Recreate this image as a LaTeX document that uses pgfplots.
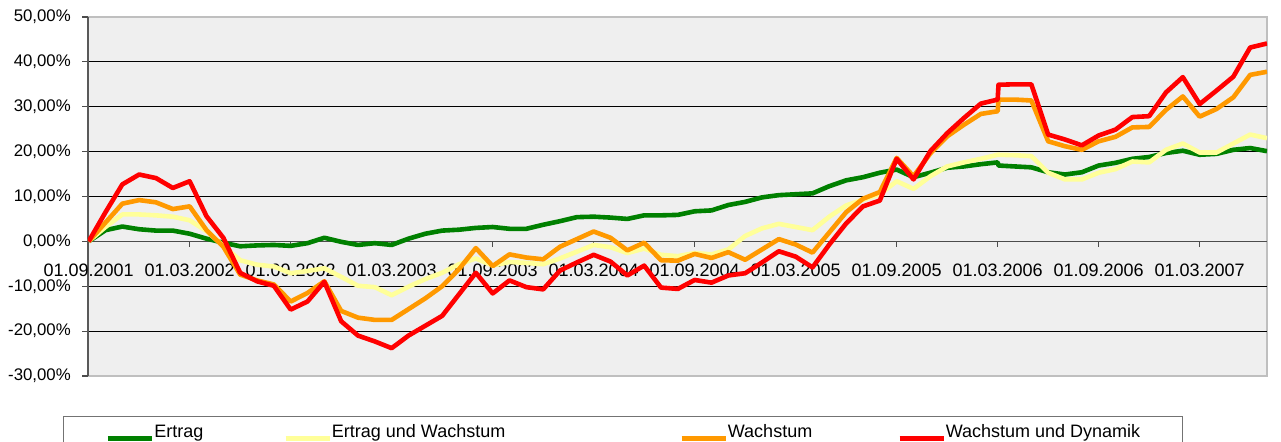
\documentclass[border=0pt]{standalone}
\usepackage{fontspec}
\setmainfont{Liberation Sans}
\usepackage{pgfplots}
\pgfplotsset{compat=1.18}
\definecolor{cgreen}{RGB}{0,128,0}
\definecolor{cyellow}{RGB}{255,255,153}
\definecolor{corange}{RGB}{255,153,0}
\definecolor{cred}{RGB}{255,0,0}
\definecolor{plotbg}{RGB}{239,239,239}
\begin{document}
\begin{tikzpicture}
\begin{axis}[
  scale only axis, width=589.5pt, height=179.5pt,
  xmin=0.96, xmax=71, ymin=-30, ymax=50,
  axis background/.style={fill=plotbg, draw=gray!50, line width=1pt},
  axis x line*=middle, axis y line*=left,
  x axis line style={black!70, line width=0.8pt},
  y axis line style={black!65, line width=1pt},
  tick align=outside, major tick length=2.8pt,
  tick style={black!70, line width=0.6pt},
  xtick={1,7,...,67},
  xticklabels={01.09.2001,01.03.2002,01.09.2002,01.03.2003,01.09.2003,01.03.2004,01.09.2004,01.03.2005,01.09.2005,01.03.2006,01.09.2006,01.03.2007},
  xticklabel style={font=\fontsize{9}{10.8}\selectfont, yshift=-5pt},
  ytick={-20,-10,...,40},
  yticklabels={{-20,00\%},{-10,00\%},{0,00\%},{10,00\%},{20,00\%},{30,00\%},{40,00\%}},
  extra y ticks={-30,50},
  extra y tick labels={{-30,00\%},{50,00\%}},
  extra y tick style={grid=none},
  yticklabel style={font=\fontsize{8.4}{10}\selectfont, xshift=-2.3pt},
  ymajorgrids, major grid style={black, line width=0.5pt},
  legend columns=4,
  legend cell align=left,
  legend style={at={(rel axis cs:0,0)}, anchor=north west, xshift=-12.5pt, yshift=-20pt,
    draw=black!55, line width=0.7pt, fill=white, inner xsep=21pt, inner ysep=4pt,
    font=\fontsize{9}{10.8}\selectfont, nodes={inner sep=0pt},
    /tikz/every odd column/.append style={column sep=0pt},
    /tikz/every even column/.append style={column sep=0pt}},
  legend image code/.code={\path[draw=none,fill=none] (0pt,-4pt) rectangle (22pt,4pt); \draw[#1] (0pt,-2.8pt) -- (22pt,-2.8pt);},
  every axis plot/.append style={line width=2.3pt, line join=round, mark=none, x filter/.expression={x+1}},
]
\coordinate (bl) at (rel axis cs:0,0);
\coordinate (tr) at (rel axis cs:1,1);
\addplot[cgreen] coordinates {(0,0)(1,2.5)(2,3.3)(3,2.7)(4,2.4)(5,2.4)(6,1.7)(7,0.6)(8,-0.3)(9,-1.1)(10,-0.9)(11,-0.8)(12,-1.0)(13,-0.4)(14,0.8)(15,-0.1)(16,-0.8)(17,-0.4)(18,-0.8)(19,0.6)(20,1.7)(21,2.4)(22,2.6)(23,3.0)(24,3.2)(25,2.8)(26,2.8)(27,3.7)(28,4.5)(29,5.4)(30,5.5)(31,5.3)(32,5.0)(33,5.8)(34,5.8)(35,5.9)(36,6.7)(37,6.9)(38,8.1)(39,8.8)(40,9.8)(41,10.3)(42,10.5)(43,10.7)(44,12.3)(45,13.6)(46,14.3)(47,15.3)(48,16.0)(49,14.3)(50,15.3)(51,16.4)(52,16.7)(53,17.2)(54,17.6)(54.05,16.9)(55,16.7)(56,16.5)(57,15.4)(58,14.9)(59,15.4)(60,16.9)(61,17.5)(62,18.4)(63,18.8)(64,19.7)(65,20.2)(66,19.3)(67,19.5)(68,20.4)(69,20.8)(70,20.1)};
\addlegendentry{Ertrag\hspace*{40pt}}
\addplot[cyellow] coordinates {(0,0)(1,3.2)(2,6.0)(3,6.0)(4,5.8)(5,5.5)(6,4.7)(7,2.3)(8,-1.0)(9,-4.2)(10,-5.2)(11,-5.6)(12,-7.1)(13,-6.6)(14,-6.0)(15,-7.9)(16,-9.9)(17,-10.2)(18,-12.0)(19,-10.1)(20,-8.4)(21,-7.0)(22,-5.1)(23,-3.8)(24,-5.4)(25,-4.6)(26,-4.8)(27,-5.1)(28,-3.8)(29,-2.3)(30,-0.8)(31,-1.3)(32,-2.6)(33,-1.6)(34,-3.0)(35,-3.3)(36,-2.6)(37,-2.9)(38,-1.8)(39,1.2)(40,2.9)(41,3.9)(42,3.2)(43,2.5)(44,5.5)(45,8.0)(46,9.3)(47,10.5)(48,13.4)(49,11.7)(50,14.5)(51,16.7)(52,17.6)(53,18.4)(54,19.3)(54.05,19.3)(55,19.2)(56,19.0)(57,15.3)(58,13.8)(59,13.8)(60,15.3)(61,16.1)(62,17.8)(63,17.6)(64,20.4)(65,21.8)(66,19.8)(67,19.8)(68,21.8)(69,23.8)(70,23.0)};
\addlegendentry{Ertrag und Wachstum\hspace*{87pt}}
\addplot[corange] coordinates {(0,0)(1,4.2)(2,8.4)(3,9.2)(4,8.7)(5,7.2)(6,7.8)(7,2.5)(8,-1.2)(9,-7.4)(10,-8.7)(11,-9.6)(12,-13.4)(13,-11.5)(14,-8.9)(15,-15.5)(16,-17.0)(17,-17.5)(18,-17.5)(19,-15.1)(20,-12.7)(21,-10.0)(22,-6.2)(23,-1.5)(24,-5.5)(25,-2.9)(26,-3.6)(27,-4.0)(28,-1.2)(29,0.5)(30,2.2)(31,0.8)(32,-2.0)(33,-0.3)(34,-4.2)(35,-4.3)(36,-2.8)(37,-3.7)(38,-2.4)(39,-4.1)(40,-1.8)(41,0.5)(42,-0.7)(43,-2.5)(44,2.0)(45,6.5)(46,9.5)(47,11.0)(48,18.6)(49,14.5)(50,19.6)(51,23.4)(52,26.0)(53,28.4)(54,29.0)(54.05,31.6)(55,31.6)(56,31.4)(57,22.3)(58,21.2)(59,20.4)(60,22.3)(61,23.3)(62,25.4)(63,25.5)(64,29.3)(65,32.3)(66,27.8)(67,29.5)(68,32.1)(69,37.1)(70,37.8)};
\addlegendentry{Wachstum\hspace*{42.5pt}}
\addplot[cred] coordinates {(0,0)(1,6.5)(2,12.7)(3,14.9)(4,14.1)(5,11.9)(6,13.4)(7,5.6)(8,0.8)(9,-7.0)(10,-8.9)(11,-9.9)(12,-15.2)(13,-13.4)(14,-9.0)(15,-17.8)(16,-21.0)(17,-22.3)(18,-23.8)(19,-21.0)(20,-18.8)(21,-16.6)(22,-11.8)(23,-7.0)(24,-11.6)(25,-8.7)(26,-10.2)(27,-10.7)(28,-6.5)(29,-4.7)(30,-3.0)(31,-4.5)(32,-7.6)(33,-5.4)(34,-10.3)(35,-10.6)(36,-8.6)(37,-9.2)(38,-7.6)(39,-7.1)(40,-4.7)(41,-2.2)(42,-3.4)(43,-5.8)(44,-0.7)(45,4.0)(46,7.8)(47,9.1)(48,18.4)(49,13.8)(50,20.1)(51,24.1)(52,27.5)(53,30.7)(54,31.6)(54.05,34.9)(55,35.0)(56,35.0)(57,23.8)(58,22.7)(59,21.4)(60,23.6)(61,24.9)(62,27.7)(63,27.9)(64,33.2)(65,36.6)(66,30.6)(67,33.6)(68,36.7)(69,43.2)(70,44.1)};
\addlegendentry{Wachstum und Dynamik}
\end{axis}
\pgfresetboundingbox
\path[use as bounding box] ([xshift=-44pt,yshift=-33pt]bl) rectangle ([xshift=7pt,yshift=8.5pt]tr);
\end{tikzpicture}
\end{document}
